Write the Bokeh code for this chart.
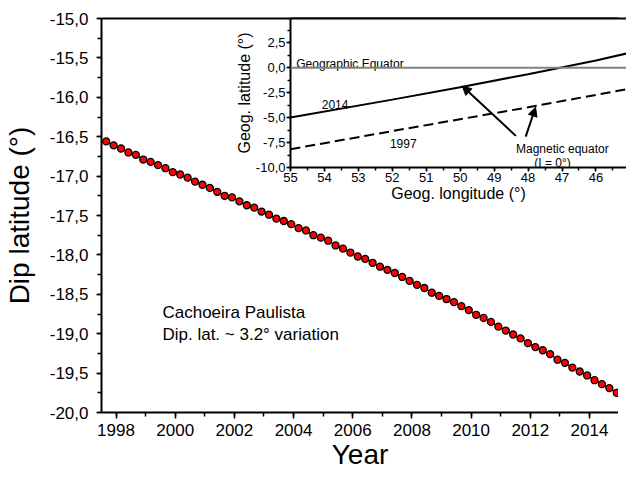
from bokeh.plotting import figure
from bokeh.models import (Range1d, LinearAxis, SingleIntervalTicker, FixedTicker,
                          CustomJSTickFormatter, Span, Arrow, NormalHead, GridBox)
from bokeh.core.properties import value
from bokeh.embed import file_html
from bokeh.resources import INLINE

FONT = "Liberation Sans"

# ---------------- data ----------------
years = [1997.67, 1997.92,
         1998.17, 1998.42, 1998.67, 1998.92,
         1999.17, 1999.42, 1999.67, 1999.92,
         2000.17, 2000.42, 2000.67, 2000.92,
         2001.17, 2001.42, 2001.67, 2001.92,
         2002.17, 2002.42, 2002.67, 2002.92,
         2003.17, 2003.42, 2003.67, 2003.92,
         2004.17, 2004.42, 2004.67, 2004.92,
         2005.17, 2005.42, 2005.67, 2005.92,
         2006.17, 2006.42, 2006.67, 2006.92,
         2007.17, 2007.42, 2007.67, 2007.92,
         2008.17, 2008.42, 2008.67, 2008.92,
         2009.17, 2009.42, 2009.67, 2009.92,
         2010.17, 2010.42, 2010.67, 2010.92,
         2011.17, 2011.42, 2011.67, 2011.92,
         2012.17, 2012.42, 2012.67, 2012.92,
         2013.17, 2013.42, 2013.67, 2013.92,
         2014.17, 2014.42, 2014.67, 2014.92]

dip_lat = [-16.56, -16.61, -16.65, -16.70, -16.73, -16.79, -16.82, -16.86, -16.90, -16.95,
           -16.98, -17.02, -17.07, -17.11, -17.15, -17.20, -17.25, -17.27, -17.32, -17.37,
           -17.40, -17.45, -17.49, -17.54, -17.57, -17.61, -17.66, -17.69, -17.75, -17.78,
           -17.82, -17.88, -17.92, -17.97, -18.02, -18.05, -18.10, -18.15, -18.19, -18.23,
           -18.28, -18.33, -18.38, -18.42, -18.48, -18.52, -18.56, -18.60, -18.65, -18.70,
           -18.76, -18.80, -18.85, -18.91, -18.96, -19.01, -19.06, -19.12, -19.17, -19.21,
           -19.26, -19.33, -19.37, -19.43, -19.48, -19.53, -19.59, -19.64, -19.69, -19.75]

# inset: magnetic equator (geographic longitude W, latitude)
lon_2014 = [55, 52, 50, 48, 46, 45]
lat_2014 = [-5.0, -3.2, -1.95, -0.65, 0.72, 1.5]
lon_1997 = [55, 52, 48, 45]
lat_1997 = [-8.17, -6.35, -3.97, -2.1]
geo_equator_lat = 0.0

main_xlabel = "Year"
main_ylabel = "Dip latitude (°)"
inset_xlabel = "Geog. longitude (°)"
inset_ylabel = "Geog. latitude (°)"
station_text = ["Cachoeira Paulista", "Dip. lat. ~ 3.2° variation"]

comma1 = CustomJSTickFormatter(code="return tick.toFixed(1).replace('.', ',');")
int0 = CustomJSTickFormatter(code="return tick.toFixed(0);")


def style_axis(ax, tick_size, label_size, tout, mout, standoff, lab_standoff):
    ax.axis_line_width = 2
    ax.axis_line_color = "black"
    ax.major_tick_line_color = "black"
    ax.minor_tick_line_color = "black"
    ax.major_tick_line_width = 1.5
    ax.minor_tick_line_width = 1.5
    ax.major_tick_in = 0
    ax.minor_tick_in = 0
    ax.major_tick_out = tout
    ax.minor_tick_out = mout
    ax.major_label_text_font = FONT
    ax.major_label_text_font_size = tick_size
    ax.major_label_text_color = "black"
    ax.major_label_standoff = standoff
    ax.axis_label_text_font = FONT
    ax.axis_label_text_font_size = label_size
    ax.axis_label_text_font_style = "normal"
    ax.axis_label_text_color = "black"
    ax.axis_label_standoff = lab_standoff


# ---------------- main figure ----------------
p = figure(width=618, height=473,
           x_range=Range1d(1997.51, 2014.98), y_range=Range1d(-20, -15),
           output_backend="svg", toolbar_location=None,
           min_border_left=93, min_border_right=0, min_border_top=18, min_border_bottom=61,
           x_axis_label=main_xlabel, y_axis_label=main_ylabel)
p.frame_align = False
p.outline_line_color = None
p.grid.visible = False
p.background_fill_color = "white"
p.border_fill_color = "white"

p.xaxis[0].ticker = SingleIntervalTicker(interval=2, num_minor_ticks=2)
p.xaxis[0].formatter = int0
p.yaxis[0].ticker = SingleIntervalTicker(interval=0.5, num_minor_ticks=2)
p.yaxis[0].formatter = comma1
style_axis(p.xaxis[0], "17px", "28px", 6, 4, 5, 0)
style_axis(p.yaxis[0], "17px", "28px", 5, 4, 8, 12)

top = LinearAxis(ticker=FixedTicker(ticks=[], minor_ticks=[]))
top.axis_line_width = 2
top.axis_line_color = "black"
top.major_label_text_font_size = "0px"
p.add_layout(top, "above")

p.line(years, dip_lat, line_color="black", line_width=1.2)
p.scatter(years, dip_lat, marker="circle", size=7, fill_color="#ff0000",
          line_color="black", line_width=1.3)

p.text(x=[1999.57, 1999.57], y=[-18.735, -19.01], text=station_text,
       text_font=value(FONT), text_font_size="17px", text_color="black",
       text_align="left", text_baseline="alphabetic")

# ---------------- inset ----------------
ins = figure(width=396, height=209,
             x_range=Range1d(55, 45.1), y_range=Range1d(-10, 4.93),
             output_backend="svg", toolbar_location=None,
             min_border_left=60, min_border_right=0, min_border_top=18, min_border_bottom=42,
             x_axis_label=inset_xlabel, y_axis_label=inset_ylabel,
             margin=(0, 0, 0, 230))
ins.frame_align = False
ins.outline_line_color = None
ins.grid.visible = False
ins.background_fill_color = "white"
ins.border_fill_alpha = 0

ins.xaxis[0].ticker = SingleIntervalTicker(interval=1, num_minor_ticks=2)
ins.xaxis[0].formatter = int0
ins.yaxis[0].ticker = SingleIntervalTicker(interval=2.5, num_minor_ticks=2)
ins.yaxis[0].formatter = comma1
style_axis(ins.xaxis[0], "13px", "16px", 4, 3, 1, 0)
style_axis(ins.yaxis[0], "13px", "16px", 4, 3, 1, 0)

itop = LinearAxis(ticker=FixedTicker(ticks=[], minor_ticks=[]))
itop.axis_line_width = 2
itop.axis_line_color = "black"
itop.major_label_text_font_size = "0px"
ins.add_layout(itop, "above")

ins.add_layout(Span(location=geo_equator_lat, dimension="width",
                    line_color="#808080", line_width=2))
ins.line(lon_2014, lat_2014, line_color="black", line_width=2)
ins.line(lon_1997, lat_1997, line_color="black", line_width=2, line_dash="10 5")

ins.add_layout(Arrow(end=NormalHead(size=9, fill_color="black", line_color="black"),
                     x_start=48.36, y_start=-6.83, x_end=49.94, y_end=-1.83,
                     line_color="black", line_width=2))
ins.add_layout(Arrow(end=NormalHead(size=9, fill_color="black", line_color="black"),
                     x_start=48.07, y_start=-6.9, x_end=47.78, y_end=-3.96,
                     line_color="black", line_width=2))

ins.text(x=[54.83, 54.08, 52.07], y=[0.37, -3.66, -7.63],
         text=["Geographic Equator", "2014", "1997"],
         text_font=value(FONT), text_font_size="12px", text_color="black",
         text_align="left", text_baseline="alphabetic")
ins.text(x=[46.99, 47.28], y=[-8.13, -9.56],
         text=["Magnetic equator", "(I = 0°)"],
         text_font=value(FONT), text_font_size="12px", text_color="black",
         text_align="center", text_baseline="alphabetic")

layout = GridBox(children=[(p, 0, 0), (ins, 0, 0)])

open("out.html", "w").write(file_html(layout, INLINE))
